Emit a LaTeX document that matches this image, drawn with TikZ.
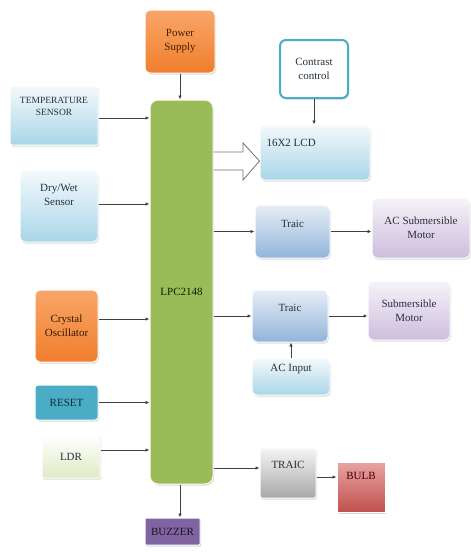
\documentclass[tikz,border=0pt]{standalone}
\usepackage{fontspec}
\setmainfont{Liberation Serif}
\usetikzlibrary{arrows.meta,shadows}
\definecolor{txt}{HTML}{26303C}
\definecolor{orgA}{HTML}{F9A66A}
\definecolor{orgB}{HTML}{F07E2C}
\definecolor{grn}{HTML}{9BBB59}
\definecolor{grnB}{HTML}{C9DE9E}
\definecolor{lbA}{HTML}{F4F9FC}
\definecolor{lbB}{HTML}{A9D6E8}
\definecolor{bluA}{HTML}{E6EEF7}
\definecolor{bluB}{HTML}{92B4D8}
\definecolor{purA}{HTML}{F6F2F9}
\definecolor{purB}{HTML}{CDBDDD}
\definecolor{teal}{HTML}{4BACC6}
\definecolor{purp}{HTML}{8064A2}
\definecolor{redA}{HTML}{E9A3A3}
\definecolor{redB}{HTML}{C0504D}
\definecolor{grA}{HTML}{F5F5F5}
\definecolor{grB}{HTML}{A8A8A8}
\tikzset{
  blk/.style={rounded corners=5pt, draw=white, line width=1pt, align=center, text=txt,
     font=\fontsize{11}{14}\selectfont, inner sep=2pt,
     drop shadow={shadow xshift=1pt,shadow yshift=-1.5pt,fill=black!30}},
  arr/.style={-{Latex[length=4pt,width=3.5pt]}, line width=0.8pt, draw=black!75},
}
\begin{document}
\begin{tikzpicture}[x=1pt,y=-1pt]
\useasboundingbox (0,0) rectangle (471,552);
% main
\node[blk, fill=grn, minimum width=63pt, minimum height=384pt, rounded corners=8pt, text=black!75!green!60!black] (mcu) at (181.5,292) {LPC2148};
\node[blk, top color=orgA, bottom color=orgB, minimum width=70pt, minimum height=63pt, text=black!75!orange] (ps) at (180,41.5) {Power\\Supply};
\node[blk, top color=lbA, bottom color=lbB, minimum width=88pt, minimum height=59pt, rounded corners=2pt, font=\fontsize{9.5}{12}\selectfont] (temp) at (54,115.5) {TEMPERATURE\\SENSOR\\[6pt]};
\node[blk, top color=lbA, bottom color=lbB, minimum width=78pt, minimum height=72pt] (dry) at (59,206) {Dry/Wet\\Sensor\\[8pt]};
\node[blk, top color=orgA, bottom color=orgB, minimum width=63pt, minimum height=72pt, text=black!80!orange] (xtal) at (66.5,326) {Crystal\\Oscillator};
\node[blk, fill=teal, minimum width=63pt, minimum height=35pt, rounded corners=3pt, text=black!75!teal] (reset) at (66.5,402.5) {RESET};
\node[blk, top color=white, bottom color=grnB!60, minimum width=58pt, minimum height=43pt, rounded corners=1pt] (ldr) at (71,456.5) {LDR};
\node[blk, fill=purp, minimum width=55pt, minimum height=27pt, rounded corners=1pt, text=black!80!purp] (buzz) at (172.5,531.5) {BUZZER};
\node[blk, fill=white, draw=teal, line width=2pt, minimum width=68pt, minimum height=58pt, rounded corners=6pt] (cc) at (314,69) {Contrast\\control};
\node[blk, top color=lbA, bottom color=lbB, minimum width=110pt, minimum height=55pt, rounded corners=4pt] (lcd) at (315,152.5) {};
\node[text=txt, font=\fontsize{11}{14}\selectfont, anchor=west] (lcdt) at (263,143) {16X2 LCD};
\node[blk, top color=bluA, bottom color=bluB, minimum width=75pt, minimum height=53pt] (tr1) at (292.5,231.5) {Traic\\[2pt]};
\node[blk, top color=purA, bottom color=purB, minimum width=98pt, minimum height=60pt] (acm) at (421,228) {AC Submersible\\Motor};
\node[blk, top color=bluA, bottom color=bluB, minimum width=76pt, minimum height=52pt] (tr2) at (290,316) {Traic\\[2pt]};
\node[blk, top color=purA, bottom color=purB, minimum width=82pt, minimum height=59pt] (sm) at (409,310.5) {Submersible\\Motor};
\node[blk, top color=lbA, bottom color=lbB, minimum width=78pt, minimum height=37pt] (aci) at (291,376.5) {AC Input\\[4pt]};
\node[blk, top color=grA, bottom color=grB, minimum width=56pt, minimum height=50pt, rounded corners=2pt] (tr3) at (288,473) {TRAIC\\[2pt]};
\node[blk, top color=redA, bottom color=redB, minimum width=48pt, minimum height=50pt, rounded corners=0pt, text=black!75!red] (bulb) at (361,487) {BULB\\[8pt]};
% connectors
\draw[arr] (ps.south) -- (mcu.north -| ps.south);
\draw[arr] (temp.east |- 0,118) -- (mcu.west |- 0,118);
\draw[arr] (dry.east |- 0,204) -- (mcu.west |- 0,204);
\draw[arr] (xtal.east |- 0,319) -- (mcu.west |- 0,319);
\draw[arr] (reset.east) -- (mcu.west |- reset.east);
\draw[arr] (ldr.east |- 0,450) -- (mcu.west |- 0,450);
\draw[arr] (mcu.south -| buzz.north) ++(7.5,0) -- ++(0,33);
\draw[arr] (cc.south) -- (lcd.north -| cc.south);
\draw[arr] (mcu.east |- tr1.west) -- (tr1.west);
\draw[arr] (tr1.east) -- (acm.west |- tr1.east);
\draw[arr] (mcu.east |- tr2.west) -- (tr2.west);
\draw[arr] (tr2.east) -- (sm.west |- tr2.east);
\draw[arr] (aci.north) -- (tr2.south -| aci.north);
\draw[arr] (mcu.east |- 0,468) -- (tr3.west |- 0,468);
\draw[arr] (tr3.east |- 0,477) -- (bulb.west |- 0,477);
% hollow arrow to LCD
\draw[draw=black!55, fill=white, line width=0.8pt] (mcu.east |- 0,152) -- (243,152) -- (243,143) -- (lcd.west |- 0,161) -- (243,180) -- (243,170) -- (mcu.east |- 0,170);
\end{tikzpicture}
\end{document}
